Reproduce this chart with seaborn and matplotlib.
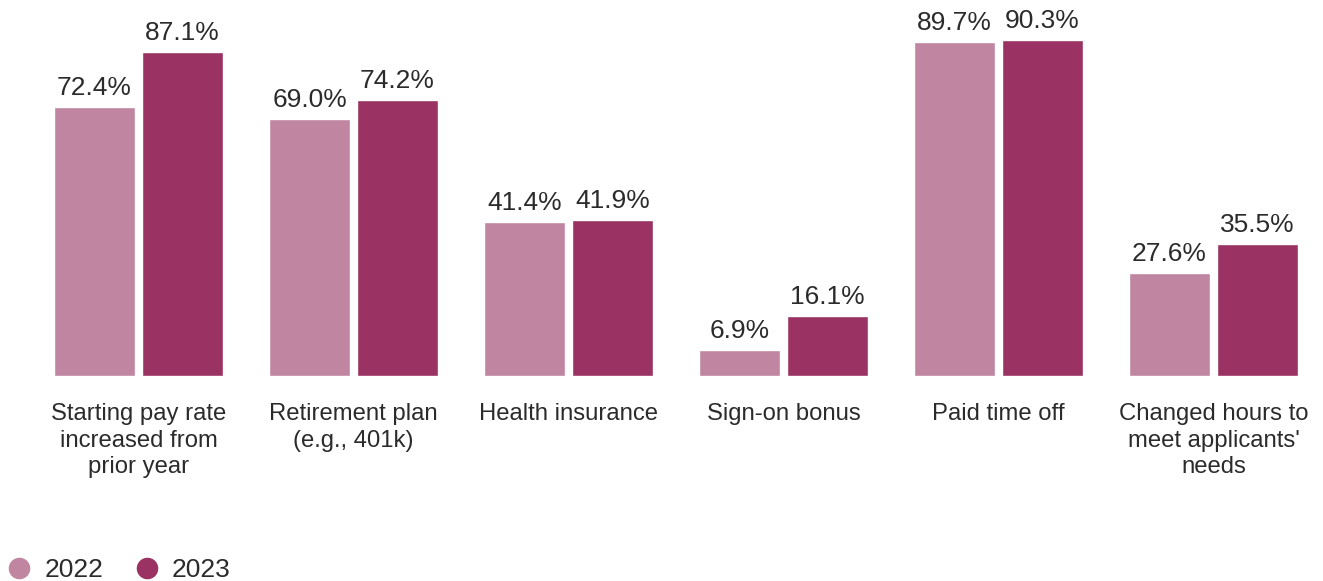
import matplotlib
matplotlib.use("Agg")
import matplotlib.pyplot as plt
from matplotlib.lines import Line2D
import seaborn as sns
import pandas as pd

categories = [
    "Starting pay rate\nincreased from\nprior year",
    "Retirement plan\n(e.g., 401k)",
    "Health insurance",
    "Sign-on bonus",
    "Paid time off",
    "Changed hours to\nmeet applicants'\nneeds",
]
years = ["2022", "2023"]
values_2022 = [72.4, 69.0, 41.4, 6.9, 89.7, 27.6]
values_2023 = [87.1, 74.2, 41.9, 16.1, 90.3, 35.5]
colors = ["#C085A1", "#9A3363"]

df = pd.DataFrame({
    "category": categories * 2,
    "year": [years[0]] * len(categories) + [years[1]] * len(categories),
    "value": values_2022 + values_2023,
})

sns.set_theme(style="white")
plt.rcParams["font.family"] = ["Liberation Sans", "DejaVu Sans"]
text_color = "#2b2b2b"

W, H = 1323, 581
fig = plt.figure(figsize=(W / 100, H / 100), dpi=100)
ax = fig.add_axes([31 / W, 205 / H, 1290 / W, 372 / H])

sns.barplot(
    data=df, x="category", y="value", hue="year",
    palette=colors, width=0.8186, gap=0.08, saturation=1,
    order=categories, hue_order=years, ax=ax, legend=False,
)

for container in ax.containers:
    ax.bar_label(container, fmt="%.1f%%", padding=5.0,
                 fontsize=19, color=text_color)

ax.set_xlim(-0.5, len(categories) - 0.5)
ax.set_ylim(0, 100)
ax.set_xlabel("")
ax.set_ylabel("")
ax.set_yticks([])
ax.tick_params(axis="x", length=0, pad=19.5, labelsize=17.2, labelcolor=text_color)
for lbl in ax.get_xticklabels():
    lbl.set_linespacing(1.27)
    lbl.set_verticalalignment("top")
sns.despine(ax=ax, left=True, bottom=True)

handles = [
    Line2D([], [], marker="o", linestyle="none", markersize=14.5,
           markerfacecolor=c, markeredgecolor=c)
    for c in colors
]
fig.legend(handles, years, loc="lower left", bbox_to_anchor=(-0.0025, -0.0197),
           ncol=2, frameon=False, fontsize=19, labelcolor=text_color,
           handletextpad=0.5, columnspacing=1.2, borderpad=0.2,
           borderaxespad=0.2, handlelength=0.9)

fig.savefig("out.png", dpi=100)
